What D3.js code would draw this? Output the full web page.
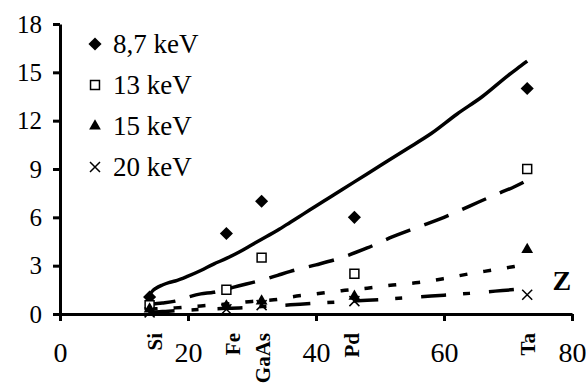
<!DOCTYPE html>
<html>
<head>
<meta charset="utf-8">
<script src="https://cdn.jsdelivr.net/npm/d3@7"></script>
<style>
  body { margin: 0; background: #fff; }
  text { font-family: 'Liberation Serif', 'Times New Roman', serif; }
</style>
</head>
<body>
<div id="chart"></div>
<script>
// element positions (Z) and their labels
const elements = ['Si', 'Fe', 'GaAs', 'Pd', 'Ta']
const elementZ = [14, 26, 31.5, 46, 73]
const labelZ = [14.9, 27, 31.7, 45.6, 73.1]

// measured points
const series = ['8,7 keV', '13 keV', '15 keV', '20 keV']
const pts87 = [1.05, 5, 7, 6, 14]
const pts13 = [0.55, 1.5, 3.5, 2.5, 9]
const pts15 = [0.3, 0.5, 0.8, 1.1, 4]
const pts20 = [0.1, 0.3, 0.55, 0.8, 1.2]

// calculated curves
const curveZ87 = [14, 14.5, 15, 16, 17, 18, 20, 22, 24, 26, 28, 30, 32, 34, 36, 38, 40, 42, 46, 50, 54, 58, 62, 66, 70, 72, 73]
const curve87 = [1.2, 1.45, 1.6, 1.8, 1.95, 2.05, 2.35, 2.7, 3.1, 3.45, 3.85, 4.3, 4.75, 5.2, 5.7, 6.2, 6.7, 7.2, 8.2, 9.2, 10.2, 11.2, 12.4, 13.5, 14.8, 15.4, 15.7]
const curveZ = [14, 16, 18, 20, 22, 24, 26, 28, 30, 32, 34, 36, 40, 44, 48, 52, 56, 60, 64, 68, 71, 73]
const curve13 = [0.6, 0.68, 0.8, 1.05, 1.25, 1.35, 1.55, 1.75, 1.95, 2.15, 2.4, 2.65, 3.05, 3.5, 4.1, 4.8, 5.4, 6.0, 6.7, 7.4, 7.9, 8.3]
const curve15 = [0.3, 0.34, 0.38, 0.44, 0.5, 0.56, 0.62, 0.7, 0.78, 0.84, 0.9, 1.05, 1.25, 1.45, 1.6, 1.8, 1.95, 2.2, 2.5, 2.75, 2.95, 3.1]
const curve20 = [0.1, 0.15, 0.2, 0.24, 0.28, 0.32, 0.35, 0.38, 0.42, 0.47, 0.52, 0.57, 0.67, 0.76, 0.85, 0.95, 1.06, 1.17, 1.28, 1.42, 1.52, 1.6]

const xTicks = [0, 20, 40, 60, 80]
const yTicks = [0, 3, 6, 9, 12, 15, 18]

const width = 586
const height = 383
const margin = { top: 24, right: 14, bottom: 69, left: 60 }
const serif = "'Liberation Serif', 'Times New Roman', serif"

const svg = d3.select('#chart')
  .append('svg')
  .attr('width', width)
  .attr('height', height)

const chartWidth = width - margin.left - margin.right
const chartHeight = height - margin.top - margin.bottom

const g = svg.append('g')
  .attr('transform', `translate(${margin.left}, ${margin.top})`)

const xScale = d3.scaleLinear().domain([0, 80]).range([0, chartWidth])
const yScale = d3.scaleLinear().domain([0, 18]).range([chartHeight, 0])

// Y axis
const yAxis = g.append('g')
  .call(d3.axisLeft(yScale).tickValues(yTicks).tickSize(7).tickSizeOuter(0).tickPadding(11))
yAxis.attr('font-family', serif)
yAxis.select('.domain').attr('stroke-width', 3)
yAxis.selectAll('.tick line').attr('stroke-width', 3)
yAxis.selectAll('.tick text')
  .attr('font-size', '25px')
  .attr('fill', '#000')

// X axis
const xAxis = g.append('g')
  .attr('transform', `translate(0, ${chartHeight})`)
  .call(d3.axisBottom(xScale).tickValues(xTicks).tickSize(7).tickSizeOuter(0).tickPadding(21))
xAxis.attr('font-family', serif)
xAxis.select('.domain').attr('stroke-width', 3)
xAxis.selectAll('.tick line').attr('stroke-width', 3)
xAxis.selectAll('.tick text')
  .attr('font-size', '28px')
  .attr('fill', '#000')

// element labels under the axis
g.selectAll('.elem')
  .data(elements)
  .enter()
  .append('text')
  .attr('class', 'elem')
  .attr('transform', (d, i) => `translate(${xScale(labelZ[i])}, ${chartHeight + 19}) rotate(-90)`)
  .attr('text-anchor', 'end')
  .attr('dy', '0.33em')
  .attr('font-size', '21px')
  .attr('font-weight', 'bold')
  .text(d => d)

// Z label
g.append('text')
  .attr('x', xScale(78.4))
  .attr('y', yScale(1.5))
  .attr('text-anchor', 'middle')
  .attr('font-size', '28px')
  .attr('font-weight', 'bold')
  .text('Z')

// curves
const line = d3.line()
  .x(d => xScale(d[0]))
  .y(d => yScale(d[1]))
  .curve(d3.curveMonotoneX)

const curves = [
  { z: curveZ87, v: curve87, dash: null },
  { z: curveZ, v: curve13, dash: '26,15' },
  { z: curveZ, v: curve15, dash: '8,16' },
  { z: curveZ, v: curve20, dash: '25,17,7,19' }
]

g.selectAll('.curve')
  .data(curves)
  .enter()
  .append('path')
  .attr('class', 'curve')
  .attr('d', c => line(c.z.map((z, i) => [z, c.v[i]])))
  .attr('fill', 'none')
  .attr('stroke', '#000')
  .attr('stroke-width', 3.5)
  .attr('stroke-dasharray', c => c.dash)

// marker shapes
const diamond = {
  draw(ctx, size) {
    const r = Math.sqrt(size) / 1.6
    ctx.moveTo(0, -r); ctx.lineTo(r, 0); ctx.lineTo(0, r); ctx.lineTo(-r, 0); ctx.closePath()
  }
}
const cross = {
  draw(ctx, size) {
    const r = Math.sqrt(size) / 2
    ctx.moveTo(-r, -r); ctx.lineTo(r, r); ctx.moveTo(r, -r); ctx.lineTo(-r, r)
  }
}

const markerTypes = [
  { sym: diamond, size: 110, fill: '#000', stroke: 'none' },
  { sym: d3.symbolSquare, size: 80, fill: '#fff', stroke: '#000' },
  { sym: d3.symbolTriangle, size: 60, fill: '#000', stroke: 'none' },
  { sym: cross, size: 100, fill: 'none', stroke: '#000' }
]
const allPts = [pts87, pts13, pts15, pts20]

function drawMarker(sel, m) {
  sel.attr('d', d3.symbol().type(m.sym).size(m.size)())
    .attr('fill', m.fill)
    .attr('stroke', m.stroke)
    .attr('stroke-width', 1.5)
}

allPts.forEach((vals, s) => {
  g.selectAll(`.pt${s}`)
    .data(vals)
    .enter()
    .append('path')
    .attr('class', `pt${s}`)
    .attr('transform', (d, i) => `translate(${xScale(elementZ[i])}, ${yScale(d)})`)
    .call(drawMarker, markerTypes[s])
})

// legend
const legend = svg.append('g')
  .attr('transform', 'translate(95, 44)')

series.forEach((name, i) => {
  const row = legend.append('g')
    .attr('transform', `translate(0, ${i * 41})`)
  row.append('path')
    .call(drawMarker, markerTypes[i])
  row.append('text')
    .attr('x', 18)
    .attr('y', 9)
    .attr('font-size', '27px')
    .text(name)
})
</script>
</body>
</html>
